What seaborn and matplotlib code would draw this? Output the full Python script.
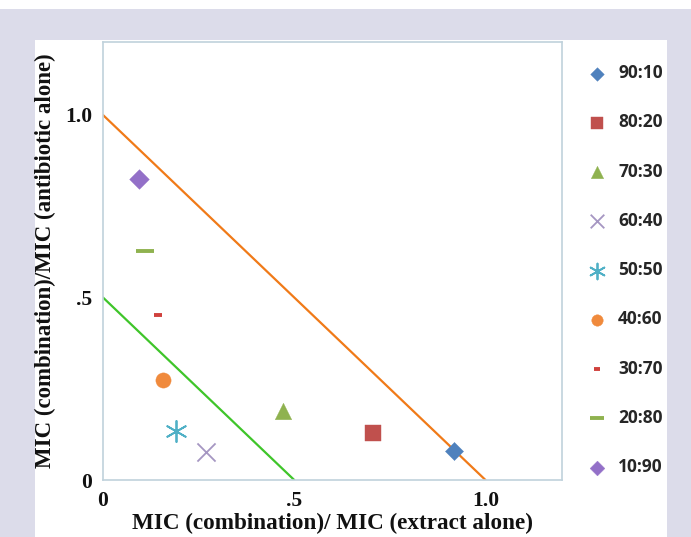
import matplotlib
matplotlib.use("Agg")
import matplotlib.pyplot as plt
import seaborn as sns
import pandas as pd
from matplotlib.patches import Rectangle

sns.set_theme(style="white")

labels = ["90:10", "80:20", "70:30", "60:40", "50:50", "40:60", "30:70", "20:80", "10:90"]
x_vals = [0.918, 0.705, 0.47, 0.27, 0.19, 0.158, 0.145, 0.11, 0.095]
y_vals = [0.079, 0.13, 0.19, 0.077, 0.134, 0.274, 0.452, 0.627, 0.825]
colors = ["#4f81bd", "#c0504d", "#8fb24f", "#a596c2", "#4fb0c6", "#f08a3c", "#d0413d", "#8fb24f", "#9370c8"]
markers = ["D", "s", "^", "x", (6, 2, 0), "o", "_", "_", "D"]
sizes = [85, 120, 140, 170, 230, 120, 40, 160, 100]

line1_x = [0.0, 1.0]
line1_y = [1.0, 0.0]
line2_x = [0.0, 0.5]
line2_y = [0.5, 0.0]

fig = plt.figure(figsize=(6.91, 5.37), dpi=100)
fig.patch.set_facecolor("#dcdcea")
fig.patches.append(Rectangle((35/691, 0), (667-35)/691, (537-40)/537, transform=fig.transFigure,
                             facecolor="white", edgecolor="none", zorder=-5))
fig.patches.append(Rectangle((0, 1-9/537), 1, 9/537, transform=fig.transFigure,
                             facecolor="white", edgecolor="none", zorder=-5))

ax = fig.add_axes([103/691, 1-480/537, (562-103)/691, (480-42)/537])
ax.set_zorder(2)
ax.set_facecolor("white")

sns.lineplot(x=line1_x, y=line1_y, ax=ax, color="#f07a18", linewidth=1.6, zorder=2)
sns.lineplot(x=line2_x, y=line2_y, ax=ax, color="#3fc52a", linewidth=1.6, zorder=2)

for lab, xv, yv, c, m, s in zip(labels, x_vals, y_vals, colors, markers, sizes):
    df = pd.DataFrame({"x": [xv], "y": [yv]})
    if m in ("x", "_") or isinstance(m, tuple):
        lw = 2.8 if m == "_" else 1.3
        sns.scatterplot(data=df, x="x", y="y", ax=ax, color=c, marker=m, s=s,
                        linewidth=lw, edgecolor=c, label=lab, zorder=3)
    else:
        sns.scatterplot(data=df, x="x", y="y", ax=ax, color=c, marker=m, s=s,
                        linewidth=0.3, edgecolor=c, label=lab, zorder=3)

ax.set_xlim(0, 1.2)
ax.set_ylim(0, 1.2)
ax.set_xticks([0, 0.5, 1.0])
ax.set_yticks([0, 0.5, 1.0])
ax.set_xticklabels(["0", ".5", "1.0"])
ax.set_yticklabels(["0", ".5", "1.0"])
ax.set_xticks([0, 0.2, 0.4, 0.6, 0.8, 1.0, 1.2], minor=True)
ax.set_yticks([0, 0.2, 0.4, 0.6, 0.8, 1.0, 1.2], minor=True)
ax.tick_params(axis="both", which="major", length=0, pad=8, labelsize=15.5)
ax.tick_params(axis="both", which="minor", length=3, color="#c8d4dc", width=1)
for lbl in ax.get_xticklabels() + ax.get_yticklabels():
    lbl.set_fontfamily("Liberation Serif")
    lbl.set_fontweight("bold")
    lbl.set_color("#111111")

for sp in ax.spines.values():
    sp.set_color("#c0d2dc")
    sp.set_linewidth(1.2)

ax.set_xlabel("MIC (combination)/ MIC (extract alone)", fontfamily="Liberation Serif",
              fontweight="bold", fontsize=16.7, color="#111111", labelpad=1)
ax.set_ylabel("MIC (combination)/MIC (antibiotic alone)", fontfamily="Liberation Serif",
              fontweight="bold", fontsize=16.5, color="#111111", labelpad=6)

leg = ax.legend(loc="upper left", bbox_to_anchor=(1.02, 0.985), frameon=False,
                labelspacing=1.8, handletextpad=0.6, markerscale=0.75, handlelength=1.2,
                prop={"family": "Open Sans", "weight": "bold", "size": 12.5})

fig.savefig("out.png", dpi=100, facecolor=fig.get_facecolor())
